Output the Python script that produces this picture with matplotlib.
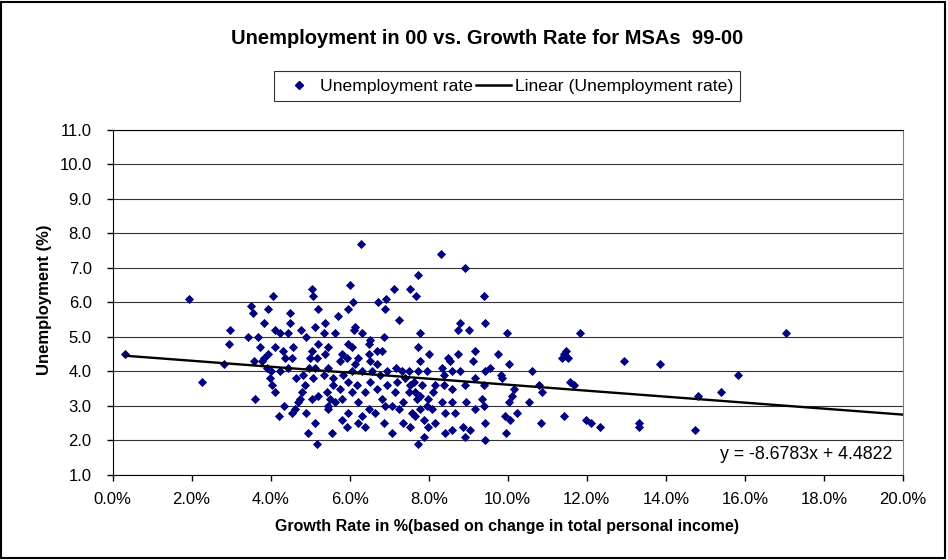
import matplotlib
matplotlib.use('Agg')
import matplotlib.pyplot as plt
from matplotlib.lines import Line2D
from matplotlib.patches import Rectangle
from matplotlib.ticker import FuncFormatter, MultipleLocator

plt.rcParams['font.family'] = ['Liberation Sans', 'DejaVu Sans']

# Growth rate (%) and unemployment (%) per MSA
growth = [
    0.32, 1.94, 2.26, 2.83, 2.94, 2.98,
    5.05, 5.08, 4.05, 3.51, 3.56, 3.94, 4.49, 5.21, 3.84, 4.49, 4.11, 4.24, 4.43, 4.77,
    5.13, 3.42, 3.67, 4.90, 3.73, 4.11, 4.56, 5.21, 4.32, 5.04, 3.94, 3.84, 3.59, 3.78,
    4.37, 4.53, 5.00, 5.17, 3.90, 4.01, 4.24, 4.45, 4.64, 4.81, 4.97, 5.13, 3.99, 4.03,
    4.11, 4.87, 5.07, 4.79, 3.61, 4.70, 5.04, 5.21, 4.35, 4.62, 4.21, 4.90, 5.13, 4.94,
    5.17, 4.55, 4.75,
    6.29, 6.01, 7.12, 6.92, 6.71, 6.08, 5.97, 6.90, 7.25, 5.70, 5.38, 5.34, 5.63, 6.14,
    6.10, 6.31, 6.52, 6.88, 5.46, 5.97, 6.06, 6.48, 6.69, 6.82, 5.38, 5.80, 5.93, 6.22,
    6.48, 5.76, 6.14, 6.52, 6.69, 5.46, 6.94, 7.17, 5.34, 5.59, 5.84, 6.06, 6.31, 6.56,
    6.77, 7.19, 5.59, 5.97, 6.18, 6.52, 6.94, 5.42, 5.76, 6.06, 6.39, 6.69, 7.15, 5.51,
    5.80, 6.82, 7.07, 5.46, 5.63, 6.22, 6.48, 5.97, 6.65, 6.90, 5.80, 5.93, 6.22, 6.39,
    6.86, 5.55, 7.07, 5.46, 6.31,
    8.32, 8.91, 7.74, 7.53, 7.68, 8.80, 8.74, 9.03, 7.77, 7.74, 8.01, 7.78, 8.50, 8.54,
    8.74, 9.18, 9.12, 8.33, 7.32, 7.49, 7.74, 7.95, 8.38, 8.59, 8.80, 9.18, 7.41, 7.62,
    7.83, 8.38, 8.59, 8.91, 7.49, 7.66, 7.78, 7.98, 8.12, 7.36, 7.70, 8.33, 8.60, 8.94,
    9.18, 7.24, 7.57, 7.78, 7.95, 8.08, 8.40, 8.67, 7.36, 7.53, 7.66, 7.87, 7.98, 8.15,
    8.88, 9.05, 8.42, 8.60, 8.91, 7.87, 7.74, 7.53, 8.16,
    9.40, 9.43, 9.98, 9.75, 9.56, 9.43, 10.02, 9.84, 9.85, 10.61, 9.39, 10.15, 10.11,
    10.78, 10.87, 9.35, 9.39, 10.02, 10.53, 9.92, 10.06, 10.23, 9.43, 10.85, 9.95, 9.43,
    11.82, 11.43, 11.48, 11.52, 11.37, 12.95, 13.84, 11.57, 11.68, 11.43, 11.99, 12.11,
    12.33, 13.32, 13.32,
    17.03, 15.82, 15.40, 14.81, 14.75,
]
unemp = [
    4.5, 6.1, 3.7, 4.2, 4.8, 5.2,
    6.4, 6.2, 6.2, 5.9, 5.7, 5.8, 5.7, 5.8, 5.4, 5.4, 5.2, 5.1, 5.1, 5.2,
    5.3, 5.0, 5.0, 5.0, 4.7, 4.7, 4.7, 4.8, 4.6, 4.6, 4.5, 4.4, 4.3, 4.3,
    4.4, 4.4, 4.4, 4.4, 4.1, 4.0, 4.0, 4.1, 3.8, 3.9, 4.1, 4.1, 3.8, 3.6,
    3.4, 3.6, 3.8, 3.4, 3.2, 3.1, 3.2, 3.3, 3.0, 2.9, 2.7, 2.8, 2.5, 2.2,
    1.9, 2.8, 3.2,
    7.7, 6.5, 6.4, 6.1, 6.0, 6.0, 5.8, 5.8, 5.5, 5.6, 5.4, 5.1, 5.1, 5.3,
    5.2, 5.1, 4.9, 5.0, 4.7, 4.8, 4.7, 4.8, 4.6, 4.6, 4.5, 4.5, 4.4, 4.4,
    4.5, 4.3, 4.2, 4.3, 4.2, 4.1, 4.0, 4.1, 3.9, 3.8, 3.9, 4.0, 4.0, 4.0,
    3.9, 3.7, 3.6, 3.7, 3.6, 3.7, 3.6, 3.4, 3.5, 3.4, 3.4, 3.5, 3.4, 3.2,
    3.2, 3.2, 3.0, 3.0, 3.1, 3.1, 2.9, 2.8, 2.8, 3.0, 2.6, 2.4, 2.5, 2.4,
    2.5, 2.2, 2.2, 2.9, 2.7,
    7.4, 7.0, 6.8, 6.4, 6.2, 5.4, 5.2, 5.2, 5.1, 4.7, 4.5, 4.3, 4.4, 4.3,
    4.5, 4.6, 4.3, 4.1, 4.0, 4.0, 4.0, 4.0, 3.9, 4.0, 4.0, 3.8, 3.8, 3.7,
    3.6, 3.6, 3.5, 3.6, 3.4, 3.4, 3.3, 3.2, 3.4, 3.1, 3.2, 3.1, 3.1, 3.1,
    2.9, 2.9, 2.8, 2.9, 3.0, 2.9, 2.8, 2.8, 2.5, 2.4, 2.7, 2.6, 2.4, 2.5,
    2.4, 2.3, 2.2, 2.3, 2.1, 2.1, 1.9, 3.6, 3.6,
    6.2, 5.4, 5.1, 4.5, 4.1, 4.0, 4.2, 3.9, 3.8, 4.0, 3.6, 3.5, 3.3,
    3.6, 3.4, 3.2, 3.0, 3.1, 3.1, 2.7, 2.6, 2.8, 2.5, 2.5, 2.2, 2.0,
    5.1, 4.5, 4.6, 4.4, 4.4, 4.3, 4.2, 3.7, 3.6, 2.7, 2.6, 2.5,
    2.4, 2.5, 2.4,
    5.1, 3.9, 3.4, 3.3, 2.3,
]

# Excel linear trendline (x as a fraction)
slope = -8.6783
intercept = 4.4822
trend_x = [0.3, 20.0]
trend_y = [slope * x / 100 + intercept for x in trend_x]

fig = plt.figure(figsize=(9.48, 5.6), dpi=100)
ax = fig.add_axes([0.1187, 0.152, 0.8338, 0.616])

ax.plot(growth, unemp, ls='none', marker='D', ms=3.9, mfc='#000080', mec='#000080',
        mew=0.6, zorder=3)
ax.plot(trend_x, trend_y, color='black', lw=1.7, zorder=4)

ax.set_xlim(0, 20)
ax.set_ylim(1, 11)
ax.xaxis.set_major_locator(MultipleLocator(2))
ax.yaxis.set_major_locator(MultipleLocator(1))
ax.xaxis.set_major_formatter(FuncFormatter(lambda v, p: f"{v:.1f}%"))
ax.yaxis.set_major_formatter(FuncFormatter(lambda v, p: f"{v:.1f}"))
ax.tick_params(direction='out', length=4, width=1, labelsize=12, color='black')
ax.tick_params(axis='y', pad=11)
ax.tick_params(axis='x', pad=8)
ax.grid(axis='y', color='#333333', lw=0.8)
ax.set_axisbelow(True)
for side in ['left', 'bottom', 'top']:
    ax.spines[side].set_color('black')
ax.spines['right'].set_color('#808080')

# equation label
ax.text(0.987, 0.058, "y = -8.6783x + 4.4822", transform=ax.transAxes,
        ha='right', va='center', fontsize=12.8)

# titles
fig.text(487 / 948, 1 - 38 / 560, "Unemployment in 00 vs. Growth Rate for MSAs  99-00",
         ha='center', va='center', fontsize=14.5, fontweight='bold')
fig.text(45 / 948, 1 - 300 / 560, "Unemployment (%)", rotation=90,
         ha='center', va='center', fontsize=12, fontweight='bold')
fig.text(507 / 948, 1 - 527 / 560, "Growth Rate in %(based on change in total personal income)",
         ha='center', va='center', fontsize=11.5, fontweight='bold')

# legend
handles = [
    Line2D([], [], ls='none', marker='D', ms=4.5, mfc='#000080', mec='#000080'),
    Line2D([], [], color='black', lw=1.8),
]
leg = fig.legend(handles, ["Unemployment rate", "Linear (Unemployment rate)"],
                 loc='center', bbox_to_anchor=(507 / 948, 1 - 86 / 560), ncol=2,
                 fontsize=12.6, frameon=True, fancybox=False, edgecolor='black',
                 handlelength=2.0, handletextpad=0.2, columnspacing=0.2, borderpad=0.4)
leg.get_frame().set_linewidth(0.8)

# chart border
fig.patches.append(Rectangle((0.001, 0.003), 0.996, 0.993, transform=fig.transFigure,
                             fill=False, ec='black', lw=1.5))

fig.savefig('out.png', dpi=100)
